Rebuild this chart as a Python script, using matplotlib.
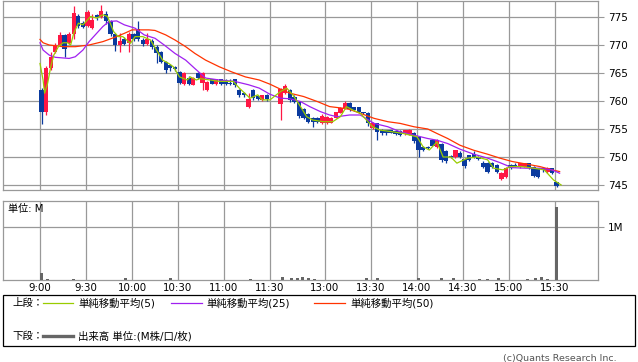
import matplotlib
matplotlib.use("Agg")
import matplotlib.pyplot as plt
from matplotlib.lines import Line2D
from matplotlib.patches import Rectangle
import numpy as np

plt.rcParams['font.family'] = ['DejaVu Sans', 'Noto Sans CJK JP']

# ---------------- data ----------------
bar_minutes = 3  # each candle covers 3 minutes
am_open = [762.0, 758.0, 765.9, 768.8, 770.0, 771.8, 770.4, 772.0, 775.2, 774.0,
           773.4, 773.0, 775.3, 775.0, 775.5, 774.3, 772.0, 770.0, 771.0, 770.3,
           772.0, 772.8, 770.9, 770.2, 770.8, 769.6, 768.75, 767.0, 766.4, 766.0,
           765.2, 763.0, 764.1, 762.9, 765.0, 763.2, 762.0, 763.9, 763.0, 763.9,
           763.5, 763.2, 763.9, 762.0, 761.5, 758.9, 762.0, 760.9, 760.2, 761.0]
am_high = [762.3, 766.2, 768.8, 770.3, 772.3, 772.0, 772.3, 777.0, 775.5, 774.2,
           776.2, 775.5, 775.6, 777.2, 776.0, 774.5, 772.2, 772.2, 771.5, 772.3,
           772.2, 774.2, 771.2, 772.2, 771.0, 770.0, 769.0, 767.2, 766.6, 766.2,
           765.4, 765.2, 764.4, 764.3, 765.2, 765.2, 763.6, 764.0, 764.0, 764.0,
           763.9, 763.9, 764.0, 762.2, 761.6, 761.5, 762.2, 761.1, 761.1, 761.2]
am_low = [755.9, 757.5, 765.5, 768.5, 769.8, 767.9, 770.2, 771.0, 773.0, 773.0,
          773.2, 772.8, 774.5, 774.8, 773.8, 771.6, 769.0, 768.8, 770.0, 768.75,
          770.8, 770.8, 769.9, 770.0, 769.3, 766.8, 766.8, 765.0, 765.4, 765.3,
          763.0, 762.9, 762.9, 762.8, 763.9, 762.0, 761.8, 763.0, 762.9, 762.9,
          762.9, 762.9, 762.5, 760.8, 760.8, 758.75, 760.2, 760.2, 760.0, 760.0]
am_close = [758.0, 765.9, 767.8, 769.9, 771.8, 769.2, 772.0, 775.8, 773.4, 773.2,
            775.9, 774.5, 775.0, 776.0, 774.2, 772.0, 770.0, 770.8, 770.2, 772.0,
            771.0, 771.0, 770.1, 771.0, 769.6, 768.5, 767.0, 765.5, 765.9, 765.7,
            763.3, 765.0, 763.0, 764.1, 764.1, 765.0, 763.4, 763.1, 763.9, 763.0,
            763.0, 763.0, 762.8, 761.0, 761.0, 760.3, 760.5, 760.3, 761.0, 760.3]

pm_open = [759.5, 761.4, 762.0, 760.8, 759.8, 758.6, 757.6, 757.0, 757.0, 756.0,
           756.0, 756.1, 757.0, 757.9, 758.7, 759.7, 758.9, 758.9, 758.0, 757.9,
           755.2, 756.0, 754.8, 754.8, 754.8, 754.6, 754.6, 754.2, 754.0, 754.3,
           753.6, 751.8, 751.8, 753.0, 751.8, 752.3, 751.0, 750.2, 750.0, 750.8,
           749.6, 750.3, 750.5, 750.0, 749.0, 749.0, 749.0, 748.6, 746.0, 746.5,
           748.6, 748.6, 748.2, 748.3, 748.9, 748.2, 748.0, 748.0, 747.4, 748.0]
pm_high = [762.4, 763.1, 762.2, 761.0, 760.0, 758.8, 757.8, 757.2, 757.1, 757.6,
           757.4, 757.2, 758.1, 758.9, 760.0, 759.9, 759.0, 759.0, 758.1, 758.0,
           756.2, 756.1, 755.0, 754.9, 754.9, 754.7, 754.8, 754.9, 755.0, 754.5,
           753.7, 752.0, 752.0, 753.2, 753.2, 752.5, 751.2, 750.4, 751.3, 751.0,
           749.8, 750.4, 751.0, 750.2, 749.2, 749.1, 749.1, 748.7, 747.3, 748.3,
           748.8, 749.0, 749.0, 749.0, 749.0, 748.4, 748.1, 748.1, 748.2, 748.1]
pm_low = [756.6, 761.2, 759.8, 759.6, 757.0, 756.8, 756.0, 755.3, 756.0, 755.9,
          755.9, 756.0, 756.9, 757.8, 758.5, 758.3, 758.2, 757.8, 757.6, 755.5,
          755.0, 753.0, 753.9, 754.0, 754.2, 754.0, 753.7, 754.0, 753.9, 752.5,
          750.0, 751.0, 751.4, 751.9, 751.6, 749.1, 749.0, 749.8, 749.8, 749.8,
          748.0, 749.3, 749.8, 749.4, 748.0, 747.1, 748.0, 747.1, 745.9, 746.3,
          747.9, 748.2, 748.1, 748.2, 747.9, 746.4, 746.2, 747.4, 747.2, 747.0]
pm_close = [762.2, 762.6, 760.1, 759.8, 757.3, 757.0, 756.3, 756.2, 756.2, 757.3,
            757.1, 757.0, 758.0, 758.75, 759.7, 758.5, 758.4, 758.0, 757.9, 756.0,
            756.0, 754.5, 754.2, 754.2, 754.3, 754.1, 754.0, 754.8, 754.8, 752.8,
            751.2, 751.3, 751.6, 752.0, 753.0, 749.5, 749.2, 750.0, 751.2, 750.0,
            748.4, 749.5, 750.0, 749.6, 748.2, 747.3, 748.3, 747.4, 747.1, 748.1,
            748.0, 748.3, 748.9, 748.9, 748.1, 746.6, 746.5, 747.6, 748.0, 747.2]

# closing auction at 15:30
auction_time = "15:30"
auction_ohlc = (745.5, 745.6, 744.6, 744.8)

ma5_times = ["9:00", "9:02", "9:03", "9:05", "9:07", "9:09", "9:12", "9:15", "9:18", "9:20",
             "9:22", "9:25", "9:28", "9:30", "9:33", "9:37", "9:41", "9:44", "9:48", "9:51",
             "9:54", "9:59", "10:02", "10:07", "10:12", "10:16", "10:20", "10:24", "10:27", "10:31",
             "10:36", "10:38", "10:42", "10:44", "10:51", "10:57", "11:06", "11:10", "11:17", "11:22",
             "11:25", "11:30", "12:31", "12:35", "12:39", "12:44", "12:48", "12:52", "12:59", "13:05",
             "13:10", "13:14", "13:18", "13:23", "13:27", "13:31", "13:36", "13:44", "13:51", "14:00",
             "14:04", "14:08", "14:13", "14:17", "14:22", "14:26", "14:33", "14:39", "14:46", "14:50",
             "14:56", "15:01", "15:08", "15:16", "15:23", "15:29", "15:34"]
ma5_vals = [766.7, 763.75, 761.4, 763.2, 766.1, 768.2, 769.7, 770.4, 770.4, 770.0,
            772.1, 773.9, 773.6, 774.2, 775.1, 774.8, 775.4, 775.1, 772.4, 771.5,
            771.5, 770.3, 771.5, 771.5, 770.9, 769.1, 767.3, 766.7, 766.1, 764.3,
            763.75, 764.3, 763.75, 764.0, 763.75, 763.5, 763.5, 762.3, 760.5, 761.1,
            760.2, 760.2, 761.7, 762.3, 761.1, 759.0, 757.2, 756.6, 756.3, 756.3,
            757.2, 759.0, 758.4, 757.8, 756.6, 755.4, 754.8, 754.5, 754.2, 753.6,
            751.8, 751.25, 752.7, 750.0, 750.0, 748.9, 749.8, 750.0, 749.5, 748.0,
            747.7, 748.3, 748.3, 748.0, 747.7, 745.9, 745.0]

ma25_times = ["9:00", "9:02", "9:06", "9:10", "9:19", "9:23", "9:28", "9:32", "9:37", "9:41",
              "9:45", "9:50", "9:55", "10:02", "10:08", "10:15", "10:21", "10:28", "10:35", "10:41",
              "10:48", "10:57", "11:07", "11:16", "11:23", "11:30", "12:31", "12:37", "12:44", "12:50",
              "12:57", "13:03", "13:08", "13:16", "13:23", "13:32", "13:41", "13:49", "13:58", "14:07",
              "14:13", "14:20", "14:28", "14:37", "14:46", "14:54", "15:02", "15:11", "15:20", "15:28",
              "15:33"]
ma25_vals = [770.4, 769.1, 768.2, 767.8, 767.6, 767.9, 769.1, 770.6, 772.1, 773.3,
             774.2, 774.3, 773.6, 773.0, 771.8, 771.2, 770.0, 768.5, 767.3, 765.8,
             764.1, 763.75, 763.5, 762.9, 762.3, 761.2, 760.5, 760.4, 759.9, 759.0,
             758.1, 757.5, 757.2, 757.5, 757.5, 756.0, 755.4, 754.5, 753.9, 753.3,
             753.0, 752.4, 751.4, 750.5, 749.8, 749.0, 748.1, 748.0, 748.0, 747.7,
             747.1]

ma50_times = ["9:00", "9:02", "9:06", "9:15", "9:23", "9:32", "9:41", "9:50", "9:56", "10:00",
              "10:11", "10:15", "10:22", "10:28", "10:35", "10:41", "10:48", "10:57", "11:05", "11:14",
              "11:23", "11:30", "12:31", "12:37", "12:46", "12:55", "13:03", "13:12", "13:16", "13:23",
              "13:32", "13:41", "13:49", "13:58", "14:07", "14:13", "14:20", "14:28", "14:37", "14:46",
              "14:54", "15:02", "15:11", "15:20", "15:28", "15:33"]
ma50_vals = [771.0, 770.4, 770.0, 769.7, 769.7, 770.0, 770.6, 771.5, 772.2, 772.7,
             772.7, 772.6, 771.8, 770.9, 769.7, 768.5, 767.3, 766.1, 765.2, 764.3,
             763.75, 763.0, 762.1, 761.4, 760.8, 759.9, 759.0, 758.7, 758.5, 757.8,
             756.9, 756.3, 756.0, 755.4, 755.0, 754.2, 753.3, 752.1, 751.2, 750.5,
             749.8, 749.2, 748.75, 748.3, 747.7, 747.4]

vol_times = ["9:00", "9:04", "9:21", "9:55", "10:24", "11:16", "12:31", "12:37", "12:41", "12:44",
             "12:48", "12:52", "13:26", "13:33", "14:00", "14:15", "14:23", "14:40", "14:45", "14:52",
             "15:11", "15:16", "15:20", "15:24", "15:30"]
vol_vals = [0.14, 0.02, 0.02, 0.04, 0.04, 0.02, 0.065, 0.04, 0.04, 0.05,
            0.03, 0.02, 0.04, 0.045, 0.04, 0.04, 0.045, 0.02, 0.02, 0.04,
            0.02, 0.04, 0.06, 0.025, 1.38]

tick_labels = ["9:00", "9:30", "10:00", "10:30", "11:00", "11:30",
               "13:00", "13:30", "14:00", "14:30", "15:00", "15:30"]
price_ticks = [745, 750, 755, 760, 765, 770, 775]
vol_ticks = [1.0]
vol_tick_labels = ["1M"]

# ---------------- helpers ----------------
AM_END = 150        # 11:30 in minutes from 9:00
PM_START = 210      # 12:30
LUNCH_GAP = 5.9     # compressed lunch gap (axis minutes)
CANDLE_OFFSET = 1.0


def clock(s):
    h, m = s.split(":")
    return (int(h) - 9) * 60 + int(m)


def xpos(t):
    t = np.asarray(t, dtype=float)
    return np.where(t <= AM_END + 0.5, t, t - PM_START + AM_END + LUNCH_GAP)


def mins(lst):
    return np.array([clock(s) for s in lst], dtype=float)


W, H = 638, 362
fig = plt.figure(figsize=(W / 100, H / 100), dpi=100)
fig.patch.set_facecolor("white")


def fx(x):
    return x / W


def fy(y):
    return 1 - y / H


GRID = "#999999"
RED = "#ff1744"
BLUE = "#0a3a9e"
C5, C25, C50 = "#99cc00", "#a020f0", "#ff3300"

ax = fig.add_axes([fx(3), fy(190), fx(598) - fx(3), fy(0.5) - fy(190)])
axv = fig.add_axes([fx(3), fy(280), fx(598) - fx(3), fy(201) - fy(280)])

xlim = ((3 - 40) / 1.5333, (598 - 40) / 1.5333)
tick_pos = xpos(mins(tick_labels))

# ---------------- candles ----------------
am_t = np.arange(len(am_close)) * bar_minutes + CANDLE_OFFSET
pm_t = PM_START + np.arange(len(pm_close)) * bar_minutes + CANDLE_OFFSET
t_all = np.concatenate([am_t, pm_t, [clock(auction_time) + CANDLE_OFFSET]])
o = np.array(am_open + pm_open + [auction_ohlc[0]])
h = np.array(am_high + pm_high + [auction_ohlc[1]])
l = np.array(am_low + pm_low + [auction_ohlc[2]])
c = np.array(am_close + pm_close + [auction_ohlc[3]])
x = xpos(t_all)
cols = np.where(c > o, RED, BLUE)

ax.vlines(x, l, h, colors=cols, lw=0.9, zorder=3)
ax.bar(x, np.maximum(np.abs(c - o), 0.22), bottom=np.minimum(o, c), width=2.8,
       color=cols, linewidth=0, zorder=3)

ax.plot(xpos(mins(ma50_times)), ma50_vals, color=C50, lw=0.9, zorder=4)
ax.plot(xpos(mins(ma25_times)), ma25_vals, color=C25, lw=0.9, zorder=4)
ax.plot(xpos(mins(ma5_times)), ma5_vals, color=C5, lw=0.9, zorder=5)

ax.set_xlim(*xlim)
ax.set_ylim(775 - (190 - 17) / 5.6, 775 + (17 - 0.5) / 5.6)
ax.set_xticks(tick_pos)
ax.set_xticklabels([])
ax.set_yticks(price_ticks)
ax.yaxis.tick_right()
ax.tick_params(axis="x", length=0)
ax.tick_params(axis="y", length=4, width=0.8, color=GRID, labelsize=7.5, pad=3)
ax.grid(True, color=GRID, lw=0.9, zorder=0)
ax.set_axisbelow(True)
for s in ax.spines.values():
    s.set_color(GRID)
    s.set_linewidth(0.9)

# ---------------- volume ----------------
axv.bar(xpos(mins(vol_times) + CANDLE_OFFSET), vol_vals, width=2.0, color="#666666",
        linewidth=0, zorder=3)
axv.set_xlim(*xlim)
axv.set_ylim(0, (280 - 201) / 53.0)
axv.set_xticks(tick_pos)
axv.set_xticklabels(tick_labels)
axv.set_yticks(vol_ticks)
axv.set_yticklabels(vol_tick_labels)
axv.yaxis.tick_right()
axv.tick_params(axis="x", length=0, labelsize=7.4, pad=2.5)
axv.tick_params(axis="y", length=4, width=0.8, color=GRID, labelsize=7.5, pad=3)
axv.grid(True, color=GRID, lw=0.9, zorder=0)
axv.set_axisbelow(True)
for s in axv.spines.values():
    s.set_color(GRID)
    s.set_linewidth(0.9)
axv.text(fx(8), fy(209), "単位: M", transform=fig.transFigure, fontsize=7.3,
         va="center", ha="left")

# ---------------- legend box ----------------
fig.add_artist(Rectangle((fx(3), fy(346)), fx(635) - fx(3), fy(295) - fy(346),
                         transform=fig.transFigure, fill=False, edgecolor="black", lw=0.9))
ly1, ly2 = 303, 336
fig.text(fx(12), fy(ly1), "上段：", fontsize=7.5, va="center", ha="left")
legend_items = [(43, 73, 78, C5, "単純移動平均(5)"),
                (171, 202, 206, C25, "単純移動平均(25)"),
                (314, 345, 350, C50, "単純移動平均(50)")]
for x0, x1, xt, col, lab in legend_items:
    fig.add_artist(Line2D([fx(x0), fx(x1)], [fy(ly1), fy(ly1)], transform=fig.transFigure,
                          color=col, lw=0.9))
    fig.text(fx(xt), fy(ly1), lab, fontsize=7.5, va="center", ha="left")
fig.text(fx(12), fy(ly2), "下段：", fontsize=7.5, va="center", ha="left")
fig.add_artist(Line2D([fx(43), fx(73)], [fy(ly2), fy(ly2)], transform=fig.transFigure,
                      color="#666666", lw=2.4))
fig.text(fx(78), fy(ly2), "出来高 単位:(M株/口/枚)", fontsize=7.5, va="center", ha="left")

fig.text(fx(617), fy(358), "(c)Quants Research Inc.", fontsize=6.8, color="#555555",
         va="center", ha="right")

fig.savefig("out.png", dpi=100, facecolor="white")
